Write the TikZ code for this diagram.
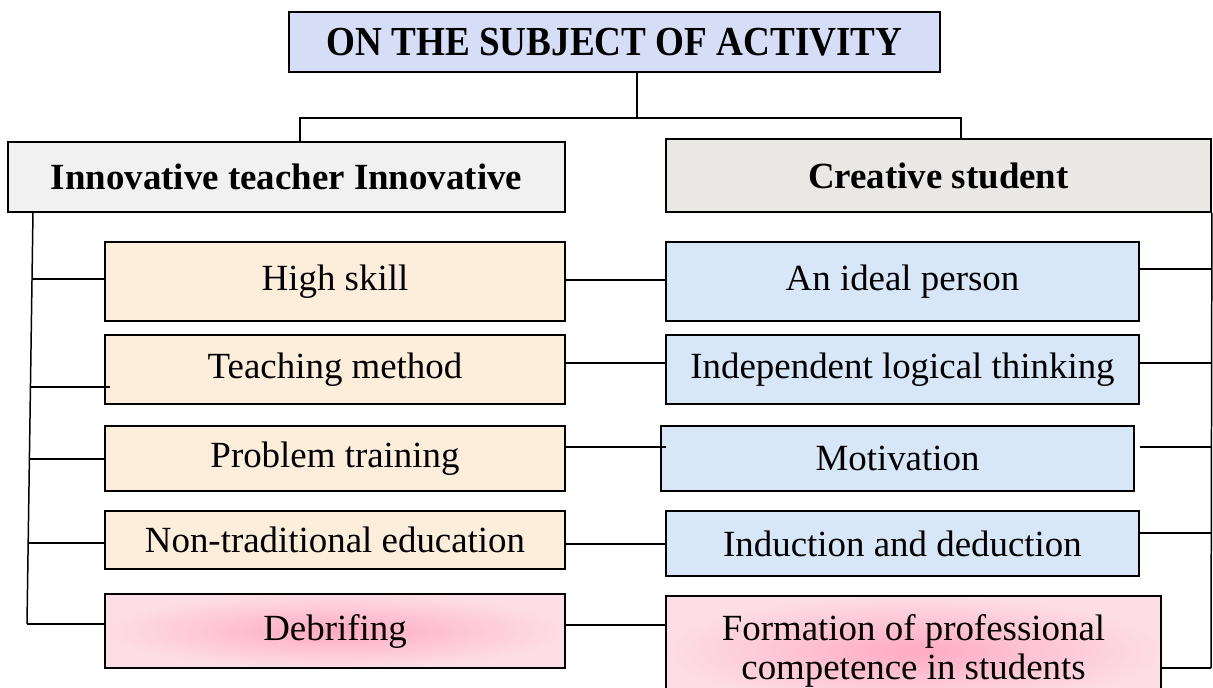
\documentclass[tikz,border=0pt]{standalone}
\usepackage{fontspec}
\setmainfont{Liberation Serif}
\usepackage{graphicx}
\usepackage{xcolor}
\usepackage{tikz}
\usetikzlibrary{positioning, calc}

\definecolor{titlefill}{HTML}{D5DEF6}
\definecolor{greyfill}{HTML}{F1F1F1}
\definecolor{stonefill}{HTML}{E9E8E4}
\definecolor{cream}{HTML}{FCEEDA}
\definecolor{paleblue}{HTML}{D8E7F8}
\definecolor{rosein}{HTML}{FFAAC3}
\definecolor{roseout}{HTML}{FDDDE6}

\begin{document}
\begin{tikzpicture}[
    x=0.02cm, y=-0.02cm,
    box/.style={draw, line width=1.1pt, inner sep=0pt, align=center, font=\fontsize{21}{22}\selectfont},
    head/.style={box, font=\fontsize{21}{22}\selectfont\bfseries},
    teach/.style={box, fill=cream, minimum width=9.2cm},
    stud/.style={box, fill=paleblue, minimum width=9.46cm},
    rose/.style={box, inner color=rosein, outer color=roseout},
    link/.style={draw, line width=0.85pt}
]
\useasboundingbox (0,0) rectangle (1213,688);

\node[head, fill=titlefill, minimum width=13.02cm, minimum height=1.2cm] (title) at (614.5,42)
    {\scalebox{0.9}[1]{\fontsize{23.5}{24}\selectfont ON THE SUBJECT OF ACTIVITY}};
\node[head, fill=greyfill, minimum width=11.14cm, minimum height=1.4cm] (teacher) at (286.5,177) {Innovative teacher Innovative};
\node[head, fill=stonefill, minimum width=10.9cm, minimum height=1.46cm] (student) at (938.5,175.5) {Creative student};

\node[teach, minimum height=1.58cm] (l1) at (335,281.5) {High skill};
\node[teach, minimum height=1.38cm] (l2) at (335,369.5) {Teaching method};
\node[teach, minimum height=1.3cm] (l3) at (335,458.5) {Problem training};
\node[teach, minimum height=1.16cm] (l4) at (335,540) {Non-traditional education};
\node[rose, minimum width=9.2cm, minimum height=1.48cm] (l5) at (335,631) {Debrifing};

\node[stud, minimum height=1.58cm] (r1) at (902.5,281.5) {An ideal person};
\node[stud, minimum height=1.38cm] (r2) at (902.5,369.5) {Independent logical thinking};
\node[stud, minimum height=1.3cm] (r3) at (897.5,458.5) {Motivation};
\node[stud, minimum height=1.3cm] (r4) at (902.5,543.5) {Induction and deduction};
\node[rose, minimum width=9.9cm, minimum height=2.2cm] (r5) at (913.5,651) {Formation of professional\\competence in students};

% fork under the title
\coordinate (fork) at (637,118);
\coordinate (forkL) at (300,118);
\coordinate (forkR) at (961,118);
\draw[link] (title.south -| fork) -- (fork);
\draw[link] (teacher.north -| forkL) -- (forkL) -- (forkR) -- (student.north -| forkR);

% left spine
\coordinate (ltop) at (33,212);
\coordinate (lbot) at (27,624);
\draw[link] (ltop) -- (lbot);
\foreach \i/\p/\e in {1/0.163/0, 2/0.425/0.12, 3/0.6/0, 4/0.803/0, 5/1/0}
    \draw[link] ($(ltop)!\p!(lbot)$) coordinate (ls\i) -- ([xshift=\e cm]ls\i -| l\i.west);

% teacher -- student rows
\foreach \i/\y/\e in {1/280/0, 2/363/0, 3/447/0.12, 4/544/0, 5/625/0}
    \draw[link] (l\i.east |- 0,\y) -- ([xshift=\e cm]r\i.west |- 0,\y);

% right spine
\coordinate (rbot) at (1211,668);
\draw[link] (student.south east) -- (rbot);
\foreach \i/\y/\e in {1/269/0, 2/363/0, 3/447/0.1, 4/533/0, 5/668/0}
    \draw[link] ([xshift=\e cm]r\i.east |- 0,\y) -- (rbot |- 0,\y);
\end{tikzpicture}
\end{document}
